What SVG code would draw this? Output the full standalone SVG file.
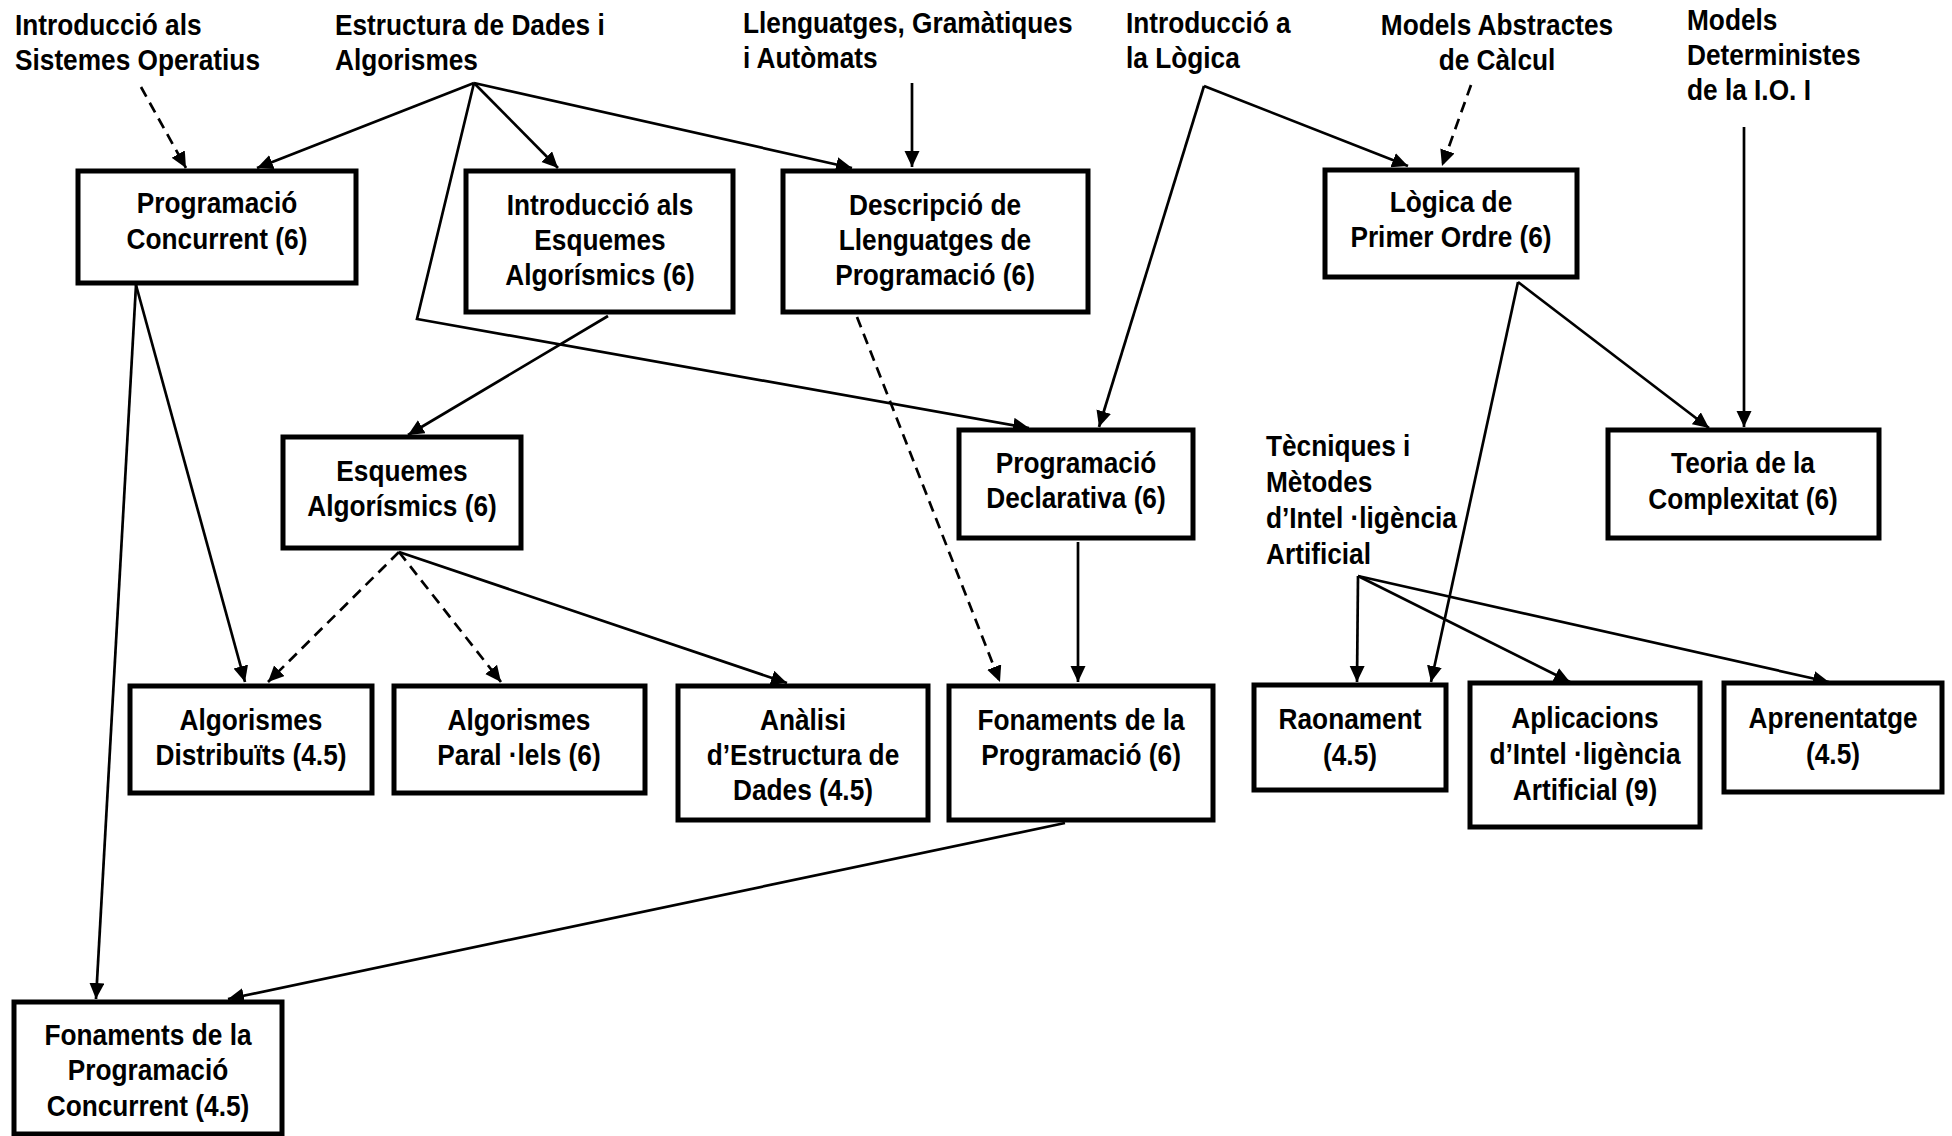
<svg xmlns="http://www.w3.org/2000/svg" width="1952" height="1136" viewBox="0 0 1952 1136">
<style>
.box{fill:#fff;stroke:#000;stroke-width:5}
text{font-family:"Liberation Sans",Arial,sans-serif;font-weight:bold;font-size:30px;fill:#000}
.c text{text-anchor:middle}
.e{fill:none;stroke:#000;stroke-width:2.7;marker-end:url(#ah)}
.d{stroke-dasharray:11 7}
</style>
<defs>
<marker id="ah" markerUnits="userSpaceOnUse" markerWidth="18" markerHeight="16" refX="16" refY="7.5" orient="auto">
<path d="M0,0 L16,7.5 L0,15 z" fill="#000"/>
</marker>
</defs>
<rect width="1952" height="1136" fill="#fff"/>

<g id="connectors">
<path class="e d" d="M141,87 L186,168"/>
<path class="e" d="M474,83 L257,168"/>
<path class="e" d="M474,83 L558,168"/>
<path class="e" d="M474,83 L852,168"/>
<path class="e" d="M474,83 L417,319 L1029,428"/>
<path class="e" d="M912,83 L912,167"/>
<path class="e" d="M1204,86 L1408,166"/>
<path class="e" d="M1204,86 L1099,427"/>
<path class="e d" d="M1471,85 L1442,166"/>
<path class="e" d="M1744,127 L1744,427"/>
<path class="e" d="M1518,282 L1709,428"/>
<path class="e" d="M1518,282 L1431,682"/>
<path class="e" d="M136,285 L245,682"/>
<path class="e" d="M136,285 L96,999"/>
<path class="e" d="M608,316 L408,435"/>
<path class="e d" d="M399,552 L268,682"/>
<path class="e d" d="M399,552 L501,682"/>
<path class="e" d="M399,552 L787,683"/>
<path class="e d" d="M857,317 L1000,682"/>
<path class="e" d="M1078,542 L1078,682"/>
<path class="e" d="M1065,823 L228,999"/>
<path class="e" d="M1358,576 L1357,682"/>
<path class="e" d="M1358,576 L1570,682"/>
<path class="e" d="M1358,576 L1829,682"/>
</g>

<g id="lbl-iso" transform="translate(15,0) scale(0.875,1)"><text x="0" y="35">Introducció als</text><text x="0" y="70">Sistemes Operatius</text></g>
<g id="lbl-eda" transform="translate(335,0) scale(0.875,1)"><text x="0" y="35">Estructura de Dades i</text><text x="0" y="70">Algorismes</text></g>
<g id="lbl-lga" transform="translate(743,0) scale(0.875,1)"><text x="0" y="33">Llenguatges, Gramàtiques</text><text x="0" y="68">i Autòmats</text></g>
<g id="lbl-il" transform="translate(1126,0) scale(0.875,1)"><text x="0" y="33">Introducció a</text><text x="0" y="68">la Lògica</text></g>
<g id="lbl-mac" class="c" transform="translate(1497,0) scale(0.875,1)"><text x="0" y="35">Models Abstractes</text><text x="0" y="70">de Càlcul</text></g>
<g id="lbl-mdio" transform="translate(1687,0) scale(0.875,1)"><text x="0" y="30">Models</text><text x="0" y="65">Deterministes</text><text x="0" y="100">de la I.O. I</text></g>
<g id="lbl-tmia" transform="translate(1266,0) scale(0.875,1)"><text x="0" y="456">Tècniques i</text><text x="0" y="492">Mètodes</text><text x="0" y="528">d’Intel ·ligència</text><text x="0" y="564">Artificial</text></g>

<g id="n-pc"><rect class="box" x="78" y="171" width="278" height="112"/><g class="c" transform="translate(217,0) scale(0.875,1)"><text x="0" y="213">Programació</text><text x="0" y="249">Concurrent (6)</text></g></g>
<g id="n-iea"><rect class="box" x="466" y="171" width="267" height="141"/><g class="c" transform="translate(600,0) scale(0.875,1)"><text x="0" y="215">Introducció als</text><text x="0" y="250">Esquemes</text><text x="0" y="285">Algorísmics (6)</text></g></g>
<g id="n-dlp"><rect class="box" x="783" y="171" width="305" height="141"/><g class="c" transform="translate(935,0) scale(0.875,1)"><text x="0" y="215">Descripció de</text><text x="0" y="250">Llenguatges de</text><text x="0" y="285">Programació (6)</text></g></g>
<g id="n-lpo"><rect class="box" x="1325" y="170" width="252" height="107"/><g class="c" transform="translate(1451,0) scale(0.875,1)"><text x="0" y="212">Lògica de</text><text x="0" y="247">Primer Ordre (6)</text></g></g>
<g id="n-ea"><rect class="box" x="283" y="437" width="238" height="111"/><g class="c" transform="translate(402,0) scale(0.875,1)"><text x="0" y="481">Esquemes</text><text x="0" y="516">Algorísmics (6)</text></g></g>
<g id="n-pd"><rect class="box" x="959" y="430" width="234" height="108"/><g class="c" transform="translate(1076,0) scale(0.875,1)"><text x="0" y="473">Programació</text><text x="0" y="508">Declarativa (6)</text></g></g>
<g id="n-tc"><rect class="box" x="1608" y="430" width="271" height="108"/><g class="c" transform="translate(1743,0) scale(0.875,1)"><text x="0" y="473">Teoria de la</text><text x="0" y="509">Complexitat (6)</text></g></g>
<g id="n-ad"><rect class="box" x="130" y="686" width="242" height="107"/><g class="c" transform="translate(251,0) scale(0.875,1)"><text x="0" y="730">Algorismes</text><text x="0" y="765">Distribuïts (4.5)</text></g></g>
<g id="n-ap"><rect class="box" x="394" y="686" width="251" height="107"/><g class="c" transform="translate(519,0) scale(0.875,1)"><text x="0" y="730">Algorismes</text><text x="0" y="765">Paral ·lels (6)</text></g></g>
<g id="n-aed"><rect class="box" x="678" y="686" width="250" height="134"/><g class="c" transform="translate(803,0) scale(0.875,1)"><text x="0" y="730">Anàlisi</text><text x="0" y="765">d’Estructura de</text><text x="0" y="800">Dades (4.5)</text></g></g>
<g id="n-fp"><rect class="box" x="949" y="686" width="264" height="134"/><g class="c" transform="translate(1081,0) scale(0.875,1)"><text x="0" y="730">Fonaments de la</text><text x="0" y="765">Programació (6)</text></g></g>
<g id="n-rao"><rect class="box" x="1254" y="685" width="192" height="105"/><g class="c" transform="translate(1350,0) scale(0.875,1)"><text x="0" y="729">Raonament</text><text x="0" y="765">(4.5)</text></g></g>
<g id="n-aia"><rect class="box" x="1470" y="683" width="230" height="144"/><g class="c" transform="translate(1585,0) scale(0.875,1)"><text x="0" y="728">Aplicacions</text><text x="0" y="764">d’Intel ·ligència</text><text x="0" y="800">Artificial (9)</text></g></g>
<g id="n-apr"><rect class="box" x="1724" y="683" width="218" height="109"/><g class="c" transform="translate(1833,0) scale(0.875,1)"><text x="0" y="728">Aprenentatge</text><text x="0" y="764">(4.5)</text></g></g>
<g id="n-fpc"><rect class="box" x="14" y="1002" width="268" height="132"/><g class="c" transform="translate(148,0) scale(0.875,1)"><text x="0" y="1045">Fonaments de la</text><text x="0" y="1080">Programació</text><text x="0" y="1116">Concurrent (4.5)</text></g></g>
</svg>
